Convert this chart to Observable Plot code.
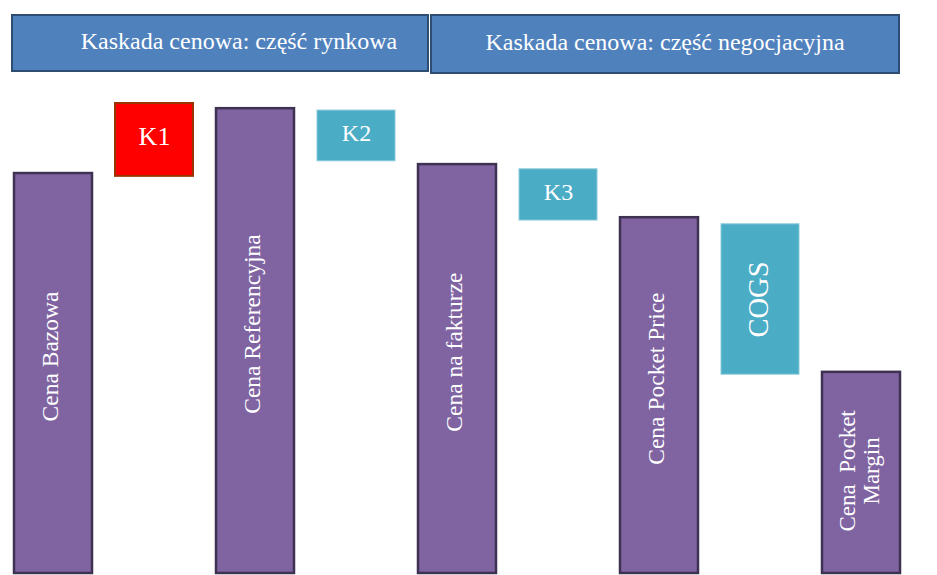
<!DOCTYPE html>
<html>
<head>
<meta charset="utf-8">
<script src="https://cdn.jsdelivr.net/npm/d3@7"></script>
<script src="https://cdn.jsdelivr.net/npm/@observablehq/plot@0.6"></script>
<style>
  html, body { margin: 0; padding: 0; background: #fff; }
  #wrap { position: relative; width: 937px; height: 575px; overflow: hidden; }
  .hdr {
    position: absolute; box-sizing: border-box;
    background: #4F81BD; border: 2.5px solid #2E4D73;
    color: #fff; font-family: "Liberation Serif", serif; font-size: 24px;
    display: flex; align-items: center; justify-content: center;
  }
  svg { display: block; }
</style>
</head>
<body>
<div id="wrap"></div>
<script>
// Section titles
const sections = ["Kaskada cenowa: część rynkowa", "Kaskada cenowa: część negocjacyjna"];

// Cascade steps
const categories = ["Cena Bazowa", "K1", "Cena Referencyjna", "K2", "Cena na fakturze", "K3", "Cena Pocket Price", "COGS", "Cena Pocket Margin"];
const labels = ["Cena Bazowa", "K1", "Cena Referencyjna", "K2", "Cena na fakturze", "K3", "Cena Pocket Price", "COGS", "Cena  Pocket\nMargin"];
const lows  = [0, 84.5, 0, 87.7, 0, 75.1, 0, 42.3, 0];
const highs = [85.1, 100, 98.9, 98.5, 87.0, 86.0, 75.7, 74.3, 42.8];
const kinds = ["total", "increase", "total", "decrease", "total", "decrease", "total", "decrease", "total"];

const data = categories.map((c, i) => ({
  cat: c, label: labels[i], lo: lows[i], hi: highs[i], kind: kinds[i], mid: (lows[i] + highs[i]) / 2
}));

const fills = {total: "#8064A2", increase: "#FF0000", decrease: "#4BACC6"};
const strokes = {total: "#3F3151", increase: "#993300", decrease: "#8CCBDB"};

const totals = data.filter(d => d.kind === "total");
const steps = data.filter(d => d.kind !== "total");
const serif = "Liberation Serif";

const plot = Plot.plot({
  width: 937,
  height: 575,
  marginTop: 0, marginBottom: 0, marginLeft: 0, marginRight: 0,
  x: {type: "band", domain: categories, range: [13.4, 901], paddingInner: 0.229, paddingOuter: 0, axis: null},
  y: {domain: [0, 100], range: [573, 103], axis: null},
  marks: [
    Plot.barY(totals, {x: "cat", y1: "lo", y2: "hi", fill: fills.total, stroke: strokes.total, strokeWidth: 2.5}),
    Plot.barY(steps, {x: "cat", y1: "lo", y2: "hi", fill: d => fills[d.kind], stroke: d => strokes[d.kind], strokeWidth: d => d.kind === "increase" ? 2 : 1}),
    Plot.text(totals.filter(d => !d.label.includes("\n")), {x: "cat", y: "mid", text: "label", rotate: -90, dy: -17, dx: -3, fill: "white", fontSize: 23.5, fontFamily: serif}),
    Plot.text(totals.filter(d => d.label.includes("\n")), {x: "cat", y: "mid", text: "label", rotate: -90, dy: -2, dx: -2, fill: "white", fontSize: 23, fontFamily: serif, lineHeight: 1.05}),
    Plot.text(steps.filter(d => d.cat !== "COGS"), {x: "cat", y: "mid", text: "label", fill: "white", fontSize: d => d.kind === "increase" ? 26 : 24, fontFamily: serif, dy: -3}),
    Plot.text(steps.filter(d => d.cat === "COGS"), {x: "cat", y: "mid", text: "label", rotate: -90, fill: "white", fontSize: 28.5, fontFamily: serif, dx: -2})
  ]
});

const wrap = document.getElementById("wrap");
wrap.appendChild(plot);

const hdrBoxes = [
  {left: 11, top: 14, width: 418, height: 58, pad: 38},
  {left: 430, top: 14, width: 470, height: 60, pad: 0}
];
sections.forEach((t, i) => {
  const b = hdrBoxes[i];
  const div = document.createElement("div");
  div.className = "hdr";
  div.style.left = b.left + "px";
  div.style.top = b.top + "px";
  div.style.width = b.width + "px";
  div.style.height = b.height + "px";
  div.style.paddingLeft = b.pad + "px";
  div.style.paddingBottom = "4px";
  div.textContent = t;
  wrap.appendChild(div);
});
</script>
</body>
</html>
